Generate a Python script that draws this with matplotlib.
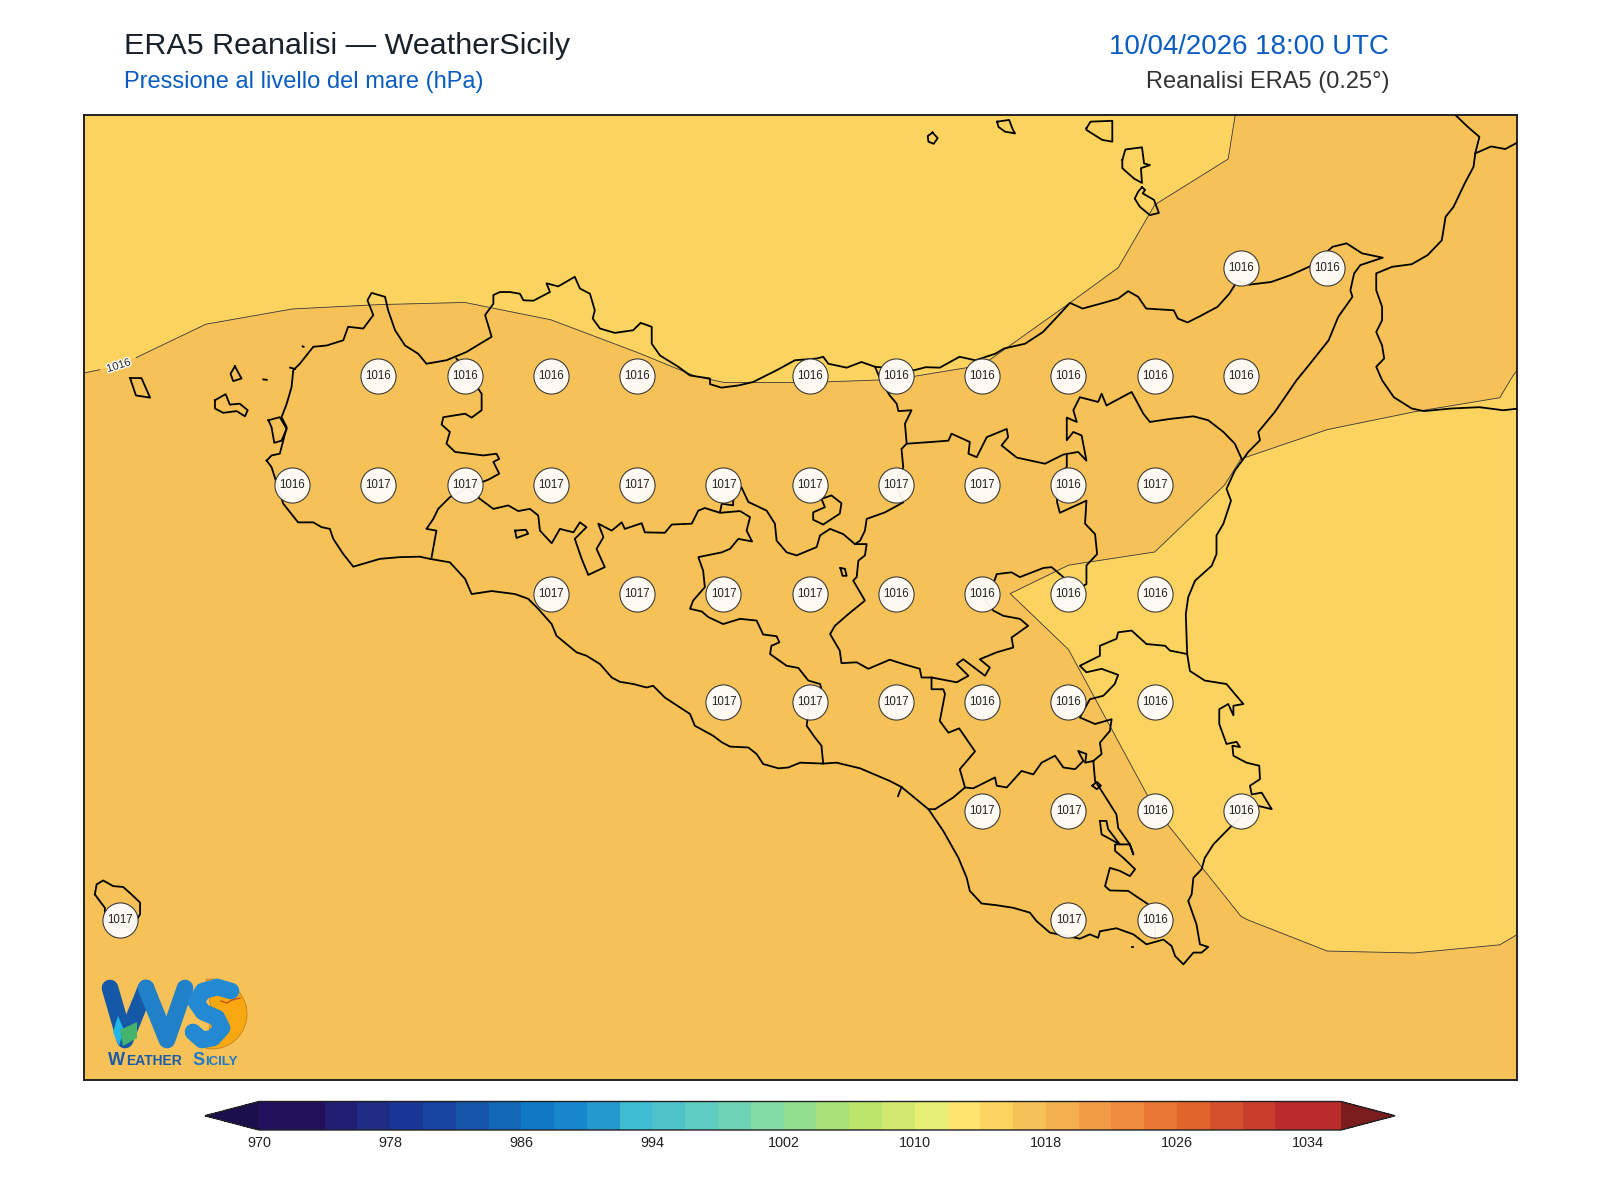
import numpy as np
import matplotlib
matplotlib.use('Agg')
import matplotlib.pyplot as plt
import matplotlib.patheffects as pe
from matplotlib.colors import ListedColormap, BoundaryNorm
from matplotlib.patches import Polygon, Wedge

plt.rcParams['font.family'] = ['Liberation Sans', 'DejaVu Sans']

# ERA5 grid, 0.25 deg
lons = [11.75, 12.0, 12.25, 12.5, 12.75, 13.0, 13.25, 13.5, 13.75, 14.0, 14.25, 14.5, 14.75, 15.0, 15.25, 15.5, 15.75, 16.0, 16.25]
lats = [38.75, 38.5, 38.25, 38.0, 37.75, 37.5, 37.25, 37.0, 36.75, 36.5, 36.25]

# sea level pressure (hPa), one row per latitude
p_3875 = [1015.2, 1015.2, 1015.2, 1015.2, 1015.2, 1015.25, 1015.3, 1015.3, 1015.35, 1015.4, 1015.45, 1015.5, 1015.6, 1015.8, 1015.995, 1016.1, 1016.15, 1016.15, 1016.15]
p_3850 = [1015.4, 1015.4, 1015.45, 1015.5, 1015.5, 1015.5, 1015.5, 1015.45, 1015.45, 1015.45, 1015.45, 1015.5, 1015.65, 1015.92, 1016.014, 1016.15, 1016.2, 1016.2, 1016.2]
p_3825 = [1015.55, 1015.55, 1015.74, 1015.81, 1015.83, 1015.84, 1015.76, 1015.61, 1015.5, 1015.5, 1015.5, 1015.345, 1015.85, 1016.11, 1016.3, 1016.3, 1016.3, 1016.25, 1016.045]
p_3800 = [1015.966, 1016.05, 1016.24, 1016.31, 1016.33, 1016.34, 1016.26, 1016.11, 1015.948, 1015.95, 1015.98, 1016.075, 1016.3, 1016.3, 1016.38, 1016.25, 1016.2, 1016.098, 1015.44]
p_3775 = [1016.3, 1016.35, 1016.4, 1016.45, 1016.6, 1016.65, 1016.7, 1016.7, 1016.88, 1016.84, 1016.69, 1016.55, 1016.4, 1016.51, 1015.88, 1015.74, 1015.59, 1015.6, 1015.5]
p_3750 = [1016.5, 1016.55, 1016.6, 1016.65, 1016.65, 1016.65, 1016.6, 1016.65, 1016.7, 1016.55, 1016.35, 1016.068, 1015.858, 1015.683, 1015.6, 1015.55, 1015.55, 1015.55, 1015.5]
p_3725 = [1016.6, 1016.65, 1016.7, 1016.7, 1016.7, 1016.7, 1016.7, 1016.7, 1016.7, 1016.6, 1016.55, 1016.3, 1016.134, 1015.73, 1015.7, 1015.65, 1015.6, 1015.6, 1015.6]
p_3700 = [1016.7, 1016.7, 1016.7, 1016.7, 1016.7, 1016.7, 1016.7, 1016.7, 1016.7, 1016.7, 1016.7, 1016.55, 1016.55, 1016.005, 1015.8, 1015.75, 1015.7, 1015.7, 1015.79]
p_3675 = [1016.8, 1016.8, 1016.8, 1016.8, 1016.8, 1016.8, 1016.8, 1016.8, 1016.8, 1016.8, 1016.75, 1016.7, 1016.55, 1016.2, 1016.006, 1015.92, 1015.9, 1015.9, 1016.1]
p_3650 = [1016.8, 1016.8, 1016.8, 1016.8, 1016.8, 1016.8, 1016.8, 1016.8, 1016.8, 1016.8, 1016.75, 1016.7, 1016.6, 1016.45, 1016.35, 1016.196, 1016.225, 1016.33, 1016.52]
p_3625 = [1016.8, 1016.8, 1016.8, 1016.8, 1016.8, 1016.8, 1016.8, 1016.8, 1016.8, 1016.8, 1016.75, 1016.7, 1016.6, 1016.55, 1016.5, 1016.45, 1016.5, 1016.55, 1016.7]

# land grid points that carry a value label (lat -> lons)
label_points = {
    38.25: [15.25, 15.5],
    38.0: [12.75, 13.0, 13.25, 13.5, 14.0, 14.25, 14.5, 14.75, 15.0, 15.25],
    37.75: [12.5, 12.75, 13.0, 13.25, 13.5, 13.75, 14.0, 14.25, 14.5, 14.75, 15.0],
    37.5: [13.25, 13.5, 13.75, 14.0, 14.25, 14.5, 14.75, 15.0],
    37.25: [13.75, 14.0, 14.25, 14.5, 14.75, 15.0],
    37.0: [14.5, 14.75, 15.0, 15.25],
    36.75: [12.0, 14.75, 15.0],
}

levels = list(range(970, 1037, 2))
cbar_ticks = [970, 978, 986, 994, 1002, 1010, 1018, 1026, 1034]
band_colors = ['#23105c', '#23105c', '#211f74', '#1e2c84', '#1a3695', '#1744a0', '#1455a9', '#1168b5',
               '#0f79c8', '#1687cc', '#2499cd', '#3fbbd3', '#4fc2c9', '#5fccc3', '#6ed3b4', '#83dba6',
               '#93de8e', '#a9e27a', '#bde56c', '#d2e970', '#e6ee76', '#fde46e', '#fdd35f', '#f6c257',
               '#f4b04e', '#f29d45', '#ee8a3c', '#e87532', '#e1642b', '#d5512c', '#c83e2c', '#ba2b2b', '#ba2b2b']

# coastline and boundaries, (lon, lat)
sicily = [(12.426, 37.806), (12.44, 37.818), (12.464, 37.822), (12.474, 37.853), (12.484, 37.883), (12.469, 37.906),
    (12.484, 37.937), (12.498, 37.975), (12.503, 38.014), (12.522, 38.029), (12.561, 38.068), (12.6, 38.071),
    (12.648, 38.083), (12.662, 38.114), (12.706, 38.11), (12.735, 38.141), (12.718, 38.175), (12.73, 38.192),
    (12.769, 38.183), (12.778, 38.152), (12.798, 38.106), (12.827, 38.071), (12.865, 38.052), (12.889, 38.029),
    (12.947, 38.037), (13.005, 38.056), (13.078, 38.091), (13.059, 38.141), (13.083, 38.167), (13.083, 38.187),
    (13.102, 38.194), (13.131, 38.194), (13.16, 38.19), (13.17, 38.175), (13.199, 38.174), (13.247, 38.194),
    (13.237, 38.214), (13.271, 38.207), (13.319, 38.229), (13.334, 38.202), (13.363, 38.19), (13.377, 38.152),
    (13.371, 38.133), (13.392, 38.11), (13.435, 38.1), (13.488, 38.106), (13.51, 38.123), (13.542, 38.114),
    (13.542, 38.075), (13.566, 38.048), (13.619, 38.022), (13.653, 38.002), (13.711, 37.995), (13.711, 37.982),
    (13.744, 37.974), (13.793, 37.979), (13.836, 37.987), (13.904, 38.014), (13.957, 38.037), (14.02, 38.041),
    (14.039, 38.045), (14.054, 38.029), (14.107, 38.02), (14.15, 38.033), (14.189, 38.022), (14.302, 38.014),
    (14.336, 38.021), (14.377, 38.02), (14.434, 38.045), (14.48, 38.037), (14.538, 38.052), (14.563, 38.064),
    (14.624, 38.075), (14.676, 38.102), (14.722, 38.141), (14.754, 38.169), (14.791, 38.156), (14.86, 38.171),
    (14.894, 38.179), (14.923, 38.196), (14.952, 38.183), (14.975, 38.156), (15.055, 38.152), (15.067, 38.133),
    (15.095, 38.124), (15.13, 38.138), (15.182, 38.16), (15.216, 38.19), (15.24, 38.22), (15.274, 38.211),
    (15.337, 38.217), (15.394, 38.233), (15.458, 38.256), (15.515, 38.298), (15.556, 38.306), (15.601, 38.283),
    (15.661, 38.273), (15.596, 38.256), (15.578, 38.237), (15.567, 38.198), (15.573, 38.183), (15.532, 38.137),
    (15.504, 38.083), (15.446, 38.025), (15.411, 37.991), (15.348, 37.918), (15.3, 37.872), (15.305, 37.853),
    (15.271, 37.826), (15.257, 37.81), (15.232, 37.783), (15.208, 37.741), (15.221, 37.714), (15.199, 37.661),
    (15.179, 37.634), (15.179, 37.591), (15.165, 37.564), (15.117, 37.53), (15.097, 37.492), (15.09, 37.453),
    (15.094, 37.361), (15.102, 37.322), (15.145, 37.3), (15.208, 37.292), (15.228, 37.273), (15.257, 37.246),
    (15.228, 37.242), (15.228, 37.22), (15.213, 37.246), (15.187, 37.234), (15.187, 37.2), (15.208, 37.154),
    (15.237, 37.159), (15.247, 37.147), (15.225, 37.15), (15.228, 37.127), (15.266, 37.111), (15.303, 37.104),
    (15.305, 37.073), (15.276, 37.058), (15.281, 37.038), (15.31, 37.042), (15.339, 37.004), (15.319, 37.008),
    (15.286, 37.014), (15.213, 36.958), (15.17, 36.923), (15.145, 36.892), (15.136, 36.866), (15.112, 36.846),
    (15.107, 36.808), (15.097, 36.793), (15.121, 36.739), (15.131, 36.693), (15.155, 36.687), (15.136, 36.674),
    (15.112, 36.674), (15.083, 36.647), (15.059, 36.666), (15.049, 36.689), (15.025, 36.704), (14.976, 36.693),
    (14.938, 36.716), (14.889, 36.73), (14.841, 36.723), (14.836, 36.708), (14.812, 36.716), (14.783, 36.706),
    (14.745, 36.712), (14.696, 36.72), (14.658, 36.746), (14.638, 36.766), (14.59, 36.777), (14.542, 36.783),
    (14.498, 36.787), (14.464, 36.816), (14.455, 36.846), (14.431, 36.892), (14.387, 36.954), (14.344, 37.004),
    (14.266, 37.055), (14.232, 37.069), (14.146, 37.098), (14.078, 37.111), (14.039, 37.109), (13.972, 37.111),
    (13.938, 37.1), (13.909, 37.098), (13.865, 37.108), (13.846, 37.131), (13.822, 37.146), (13.769, 37.148),
    (13.745, 37.158), (13.72, 37.173), (13.667, 37.196), (13.653, 37.223), (13.624, 37.238), (13.58, 37.261),
    (13.546, 37.288), (13.527, 37.284), (13.489, 37.292), (13.45, 37.297), (13.426, 37.307), (13.392, 37.338),
    (13.353, 37.357), (13.324, 37.365), (13.281, 37.393), (13.266, 37.403), (13.252, 37.43), (13.213, 37.465),
    (13.184, 37.488), (13.146, 37.499), (13.078, 37.506), (13.02, 37.499), (13.001, 37.534), (12.957, 37.572),
    (12.899, 37.58), (12.87, 37.585), (12.812, 37.584), (12.754, 37.58), (12.677, 37.562), (12.648, 37.591),
    (12.619, 37.626), (12.609, 37.649), (12.585, 37.653), (12.561, 37.664), (12.517, 37.664), (12.474, 37.707),
    (12.44, 37.791), (12.426, 37.806)]

calabria = [(15.872, 38.601), (15.906, 38.575), (15.941, 38.551), (15.929, 38.513), (15.924, 38.482), (15.901, 38.448),
    (15.866, 38.39), (15.843, 38.367), (15.832, 38.313), (15.791, 38.279), (15.745, 38.258), (15.688, 38.252),
    (15.642, 38.237), (15.642, 38.198), (15.659, 38.16), (15.659, 38.129), (15.642, 38.102), (15.659, 38.071),
    (15.665, 38.041), (15.642, 38.022), (15.659, 37.991), (15.693, 37.952), (15.745, 37.926), (15.78, 37.92),
    (15.86, 37.926), (15.941, 37.929), (16.01, 37.922), (16.056, 37.926)]
calabria_inner = [(15.929, 38.513), (15.975, 38.529), (16.016, 38.523), (16.056, 38.54)]

# Trapani / Palermo
bound_tp = [(12.976, 38.041), (12.996, 38.022), (13.049, 37.96), (13.049, 37.922), (13.02, 37.905), (13.001, 37.914),
    (12.938, 37.906), (12.933, 37.889), (12.957, 37.872), (12.947, 37.845), (12.972, 37.826), (13.054, 37.818),
    (13.092, 37.822), (13.1, 37.81), (13.083, 37.803), (13.1, 37.776), (13.068, 37.762), (13.01, 37.745),
    (12.957, 37.722), (12.923, 37.695), (12.909, 37.672), (12.889, 37.649), (12.918, 37.645), (12.904, 37.584)]
# Palermo / Agrigento, then Agrigento / Caltanissetta
bound_ag = [(13.01, 37.745), (13.044, 37.718), (13.083, 37.695), (13.126, 37.703), (13.155, 37.69), (13.189, 37.695),
    (13.213, 37.68), (13.218, 37.645), (13.252, 37.616), (13.276, 37.649), (13.315, 37.641), (13.334, 37.664),
    (13.353, 37.653), (13.319, 37.626), (13.339, 37.58), (13.358, 37.543), (13.406, 37.561), (13.382, 37.603),
    (13.402, 37.63), (13.387, 37.661), (13.426, 37.645), (13.455, 37.664), (13.464, 37.649), (13.513, 37.662),
    (13.522, 37.641), (13.58, 37.64), (13.6, 37.659), (13.658, 37.661), (13.677, 37.691), (13.696, 37.697),
    (13.74, 37.686), (13.798, 37.69), (13.827, 37.676), (13.817, 37.645), (13.833, 37.62), (13.793, 37.626),
    (13.769, 37.603), (13.745, 37.595), (13.677, 37.584), (13.691, 37.553), (13.696, 37.515), (13.662, 37.484),
    (13.653, 37.465), (13.687, 37.459), (13.706, 37.446), (13.749, 37.43), (13.798, 37.442), (13.846, 37.438),
    (13.865, 37.406), (13.904, 37.402), (13.912, 37.388), (13.889, 37.38), (13.885, 37.361), (13.933, 37.334),
    (13.967, 37.329), (13.996, 37.3), (14.03, 37.292), (14.034, 37.28), (14.0, 37.25), (13.991, 37.196),
    (14.015, 37.169), (14.034, 37.15), (14.039, 37.109)]
# Palermo / Caltanissetta
bound_cl = [(13.74, 37.688), (13.745, 37.707), (13.778, 37.703), (13.778, 37.714), (13.802, 37.745), (13.822, 37.711),
    (13.875, 37.691), (13.899, 37.661), (13.904, 37.622), (13.933, 37.595), (13.962, 37.588), (14.02, 37.607),
    (14.03, 37.634), (14.059, 37.649), (14.097, 37.637), (14.131, 37.614), (14.165, 37.614), (14.16, 37.588),
    (14.141, 37.576), (14.136, 37.538), (14.126, 37.53), (14.16, 37.484), (14.112, 37.453), (14.073, 37.426),
    (14.059, 37.407), (14.087, 37.369), (14.092, 37.34), (14.136, 37.342), (14.17, 37.327), (14.232, 37.348),
    (14.271, 37.338), (14.319, 37.327), (14.324, 37.307), (14.353, 37.307), (14.426, 37.296), (14.46, 37.311),
    (14.426, 37.338), (14.445, 37.349), (14.508, 37.311), (14.522, 37.33), (14.493, 37.349), (14.542, 37.365),
    (14.59, 37.376), (14.585, 37.399), (14.633, 37.426), (14.609, 37.442), (14.561, 37.449), (14.532, 37.461),
    (14.502, 37.492), (14.532, 37.522), (14.542, 37.545), (14.585, 37.549), (14.609, 37.538), (14.677, 37.559),
    (14.701, 37.561), (14.735, 37.538), (14.752, 37.499), (14.802, 37.522), (14.802, 37.565), (14.833, 37.591),
    (14.827, 37.637), (14.798, 37.661), (14.802, 37.714), (14.725, 37.686), (14.717, 37.71), (14.716, 37.73),
    (14.711, 37.768), (14.745, 37.791), (14.745, 37.82)]
# Palermo / Messina
bound_me = [(14.189, 38.022), (14.208, 37.987), (14.232, 37.956), (14.252, 37.937), (14.257, 37.92), (14.295, 37.922),
    (14.276, 37.891), (14.281, 37.845), (14.266, 37.833), (14.271, 37.791), (14.252, 37.749), (14.271, 37.71),
    (14.218, 37.687), (14.165, 37.672), (14.16, 37.645), (14.146, 37.622), (14.131, 37.614)]
# Messina / Enna, Messina / Catania
bound_en = [(14.281, 37.845), (14.353, 37.849), (14.402, 37.852), (14.411, 37.868), (14.464, 37.849), (14.46, 37.822),
    (14.484, 37.814), (14.513, 37.86), (14.571, 37.879), (14.575, 37.86), (14.556, 37.841), (14.6, 37.813),
    (14.682, 37.799), (14.735, 37.82), (14.778, 37.826), (14.802, 37.806), (14.788, 37.864), (14.764, 37.872),
    (14.745, 37.853), (14.745, 37.905), (14.774, 37.895), (14.764, 37.922), (14.783, 37.952), (14.836, 37.941),
    (14.846, 37.96), (14.86, 37.933), (14.933, 37.964), (14.967, 37.914), (14.986, 37.895), (15.044, 37.902),
    (15.112, 37.908), (15.155, 37.899), (15.199, 37.872), (15.232, 37.845), (15.252, 37.81)]
# Caltanissetta / Catania down to Gela
bound_gela = [(14.353, 37.307), (14.353, 37.28), (14.387, 37.28), (14.392, 37.269), (14.377, 37.207), (14.402, 37.18),
    (14.433, 37.19), (14.479, 37.137), (14.435, 37.096), (14.45, 37.054), (14.416, 37.031), (14.363, 37.004),
    (14.344, 37.004)]
# Ragusa / Catania
bound_rg = [(14.45, 37.054), (14.474, 37.052), (14.537, 37.077), (14.542, 37.058), (14.571, 37.054), (14.614, 37.092),
    (14.648, 37.084), (14.672, 37.111), (14.711, 37.127), (14.735, 37.1), (14.769, 37.096), (14.793, 37.115),
    (14.778, 37.138), (14.802, 37.131), (14.798, 37.111), (14.822, 37.115)]
# Siracusa / Catania
bound_sr = [(15.094, 37.361), (15.044, 37.369), (15.03, 37.38), (14.976, 37.384), (14.933, 37.415), (14.894, 37.411),
    (14.889, 37.396), (14.841, 37.38), (14.841, 37.357), (14.783, 37.334), (14.802, 37.319), (14.846, 37.327),
    (14.894, 37.313), (14.884, 37.292), (14.851, 37.265), (14.812, 37.257), (14.783, 37.215), (14.827, 37.2),
    (14.875, 37.211), (14.87, 37.184), (14.841, 37.157), (14.846, 37.131), (14.822, 37.115)]
# Ragusa / Siracusa
bound_rs = [(14.822, 37.115), (14.827, 37.069), (14.846, 37.046), (14.889, 36.992), (14.894, 36.961), (14.928, 36.923),
    (14.938, 36.9), (14.928, 36.923), (14.885, 36.923), (14.885, 36.908), (14.909, 36.892), (14.943, 36.866),
    (14.928, 36.85), (14.899, 36.862), (14.87, 36.869), (14.86, 36.839), (14.856, 36.827), (14.87, 36.817),
    (14.923, 36.816), (14.981, 36.785), (15.001, 36.746), (15.001, 36.708)]
enclave_rg = [(14.841, 36.977), (14.86, 36.977), (14.865, 36.958), (14.899, 36.923), (14.846, 36.946), (14.841, 36.977)]
lake_rg = [(14.819, 37.058), (14.832, 37.067), (14.844, 37.058), (14.832, 37.05), (14.819, 37.058)]
stub_gela = [(14.266, 37.055), (14.256, 37.034)]
lake_ag = [(13.146, 37.645), (13.177, 37.647), (13.184, 37.638), (13.15, 37.628), (13.146, 37.645)]
lake_pozzillo = [(14.089, 37.559), (14.102, 37.557), (14.107, 37.541), (14.095, 37.541), (14.089, 37.559)]
enclave_cl = [(14.034, 37.718), (14.063, 37.726), (14.092, 37.708), (14.087, 37.684), (14.039, 37.659), (14.01, 37.67),
    (14.01, 37.687), (14.044, 37.699), (14.034, 37.718)]
stagnone = [(12.431, 37.899), (12.464, 37.906), (12.484, 37.879), (12.469, 37.852), (12.448, 37.847), (12.44, 37.883), (12.431, 37.899)]

# islands and specks
marettimo = [(12.03, 37.996), (12.063, 37.996), (12.088, 37.951), (12.047, 37.956), (12.03, 37.996)]
levanzo = [(12.334, 38.023), (12.353, 37.995), (12.329, 37.989), (12.321, 38.006), (12.334, 38.023)]
favignana = [(12.276, 37.945), (12.307, 37.959), (12.319, 37.935), (12.348, 37.937), (12.371, 37.922), (12.363, 37.908),
    (12.339, 37.92), (12.3, 37.916), (12.276, 37.926), (12.276, 37.945)]
formica = [(12.416, 37.993), (12.426, 37.992)]
speck_tp = [(12.53, 38.069), (12.533, 38.068)]
speck_co = [(14.934, 36.687), (14.937, 36.687)]
blob_tp = [(12.494, 38.02), (12.508, 38.017)]
pantelleria = [(11.928, 36.808), (11.933, 36.831), (11.952, 36.84), (11.981, 36.827), (12.01, 36.825), (12.034, 36.808),
    (12.059, 36.789), (12.059, 36.762), (12.034, 36.731), (11.957, 36.747), (11.957, 36.777), (11.938, 36.797), (11.928, 36.808)]
alicudi = [(14.356, 38.561), (14.371, 38.548), (14.359, 38.535), (14.344, 38.54), (14.342, 38.553), (14.356, 38.561)]
filicudi = [(14.543, 38.586), (14.578, 38.59), (14.589, 38.567), (14.595, 38.559), (14.566, 38.563), (14.547, 38.574), (14.543, 38.586)]
salina = [(14.802, 38.571), (14.814, 38.586), (14.877, 38.588), (14.877, 38.54), (14.848, 38.544), (14.802, 38.567), (14.802, 38.571)]
lipari = [(14.906, 38.498), (14.915, 38.522), (14.963, 38.527), (14.969, 38.49), (14.986, 38.486), (14.96, 38.479),
    (14.963, 38.445), (14.94, 38.455), (14.906, 38.479), (14.906, 38.498)]
vulcano = [(14.963, 38.435), (14.972, 38.429), (14.965, 38.421), (14.998, 38.406), (15.012, 38.376), (14.986, 38.371),
    (14.957, 38.39), (14.942, 38.409), (14.952, 38.425), (14.963, 38.435)]

outlines = [sicily, calabria, calabria_inner, bound_tp, bound_ag, bound_cl, bound_me, bound_en, bound_gela, bound_rg,
            bound_sr, bound_rs, enclave_rg, lake_rg, stub_gela, lake_ag, lake_pozzillo, enclave_cl, stagnone,
            marettimo, levanzo, favignana, formica, speck_tp, speck_co, blob_tp, pantelleria, alicudi, filicudi,
            salina, lipari, vulcano]

W, H = 1600, 1200
fig = plt.figure(figsize=(16, 12), dpi=100)
ax = fig.add_axes([83.5 / W, 1 - 1079.5 / H, (1517 - 83.5) / W, (1079.5 - 114.5) / H])

pressure = np.array([p_3875, p_3850, p_3825, p_3800, p_3775, p_3750, p_3725, p_3700, p_3675, p_3650, p_3625])
cmap = ListedColormap(band_colors)
cmap.set_under('#1d0f4e')
cmap.set_over('#7b1c1e')
norm = BoundaryNorm(levels, len(band_colors))

cf = ax.contourf(lons, lats, pressure, levels=levels, cmap=cmap, norm=norm, extend='both')
cs = ax.contour(lons, lats, pressure, levels=levels, colors='#3a3a3a', linewidths=0.6)
labs = ax.clabel(cs, fmt='%d', fontsize=8, manual=[(12.0, 38.012)], inline=True, colors='#222222')
for t in labs:
    t.set_path_effects([pe.withStroke(linewidth=2, foreground='white')])

for line in outlines:
    xs, ys = zip(*line)
    ax.plot(xs, ys, color='black', lw=1.3, solid_joinstyle='round', zorder=4)

ax.set_xlim(11.895, 16.05)
ax.set_ylim(36.382, 38.6025)
ax.set_xticks([])
ax.set_yticks([])
for s in ax.spines.values():
    s.set_linewidth(1.4)
    s.set_color('#222222')

# value bubbles on land points
for lat, row in label_points.items():
    for lon in row:
        val = pressure[lats.index(lat), lons.index(lon)]
        ax.scatter([lon], [lat], s=640, facecolor='#fffdfa', edgecolor='#333333', linewidth=0.8, alpha=0.95, zorder=5)
        ax.text(lon, lat, f'{val:.0f}', ha='center', va='center', fontsize=8.3, color='#222222', zorder=6)

# colorbar, extensions live inside the cax box
cax = fig.add_axes([205 / W, 1 - 1130 / H, 1190 / W, 28.5 / H])
cb = fig.colorbar(cf, cax=cax, orientation='horizontal', ticks=cbar_ticks, extendfrac=0.05, spacing='proportional')
cb.ax.tick_params(length=0, labelsize=10.4, labelcolor='#222222', pad=4)
cb.ax.minorticks_off()
cb.outline.set_linewidth(1.0)
cb.outline.set_edgecolor('#222222')

# titles
fig.text(124 / W, 1 - 54 / H, 'ERA5 Reanalisi — WeatherSicily', fontsize=21.95, color='#18202a', ha='left', va='baseline')
fig.text(124 / W, 1 - 88 / H, 'Pressione al livello del mare (hPa)', fontsize=17.05, color='#0a5cc0', ha='left', va='baseline')
fig.text(1389 / W, 1 - 54 / H, '10/04/2026 18:00 UTC', fontsize=19.9, color='#0a5cc0', ha='right', va='baseline')
fig.text(1389 / W, 1 - 88 / H, 'Reanalisi ERA5 (0.25°)', fontsize=17.05, color='#333333', ha='right', va='baseline')

# logo, drawn in pixel space on a transparent overlay
lg = fig.add_axes([0, 0, 1, 1], facecolor='none')
lg.set_xlim(0, W)
lg.set_ylim(H, 0)
lg.axis('off')
lg.add_patch(Wedge((212, 1014), 35, -100, 100, facecolor='#f7a70f', edgecolor='#b9791b', lw=0.5))
lg.plot([110, 125, 146], [988, 1040, 988], color='#1558a8', lw=12, solid_capstyle='round', solid_joinstyle='round')
lg.plot([146, 167, 185], [988, 1040, 988], color='#2080c8', lw=12, solid_capstyle='round', solid_joinstyle='round')
lg.plot([231, 217, 203, 196, 203, 217, 222, 213, 202, 193], [991, 987, 991, 1002, 1012, 1018, 1028, 1038, 1040, 1032],
        color='#2289d2', lw=12, solid_capstyle='round', solid_joinstyle='round')
lg.add_patch(Polygon([(120, 1030), (124, 1028), (137, 1022), (137, 1038), (123, 1046)], closed=True, facecolor='#44b36b', edgecolor='none', zorder=3))
lg.add_patch(Polygon([(113, 1032), (118, 1016), (124, 1030), (119, 1046)], closed=True, facecolor='#1fb6ea', edgecolor='none', zorder=2.5))
lg.plot([221, 227, 232, 240], [1001, 1003, 1000, 998], color='#c9501d', lw=1)
lg.text(108, 1065, 'W', fontsize=13, fontweight='bold', color='#1a5aa8', ha='left', va='baseline')
lg.text(126, 1065, 'EATHER', fontsize=10, fontweight='bold', color='#1a5aa8', ha='left', va='baseline')
lg.text(192, 1065, 'S', fontsize=13, fontweight='bold', color='#1f78c8', ha='left', va='baseline')
lg.text(205, 1065, 'ICILY', fontsize=9.5, fontweight='bold', color='#1f78c8', ha='left', va='baseline')

fig.savefig('out.png', dpi=100)
